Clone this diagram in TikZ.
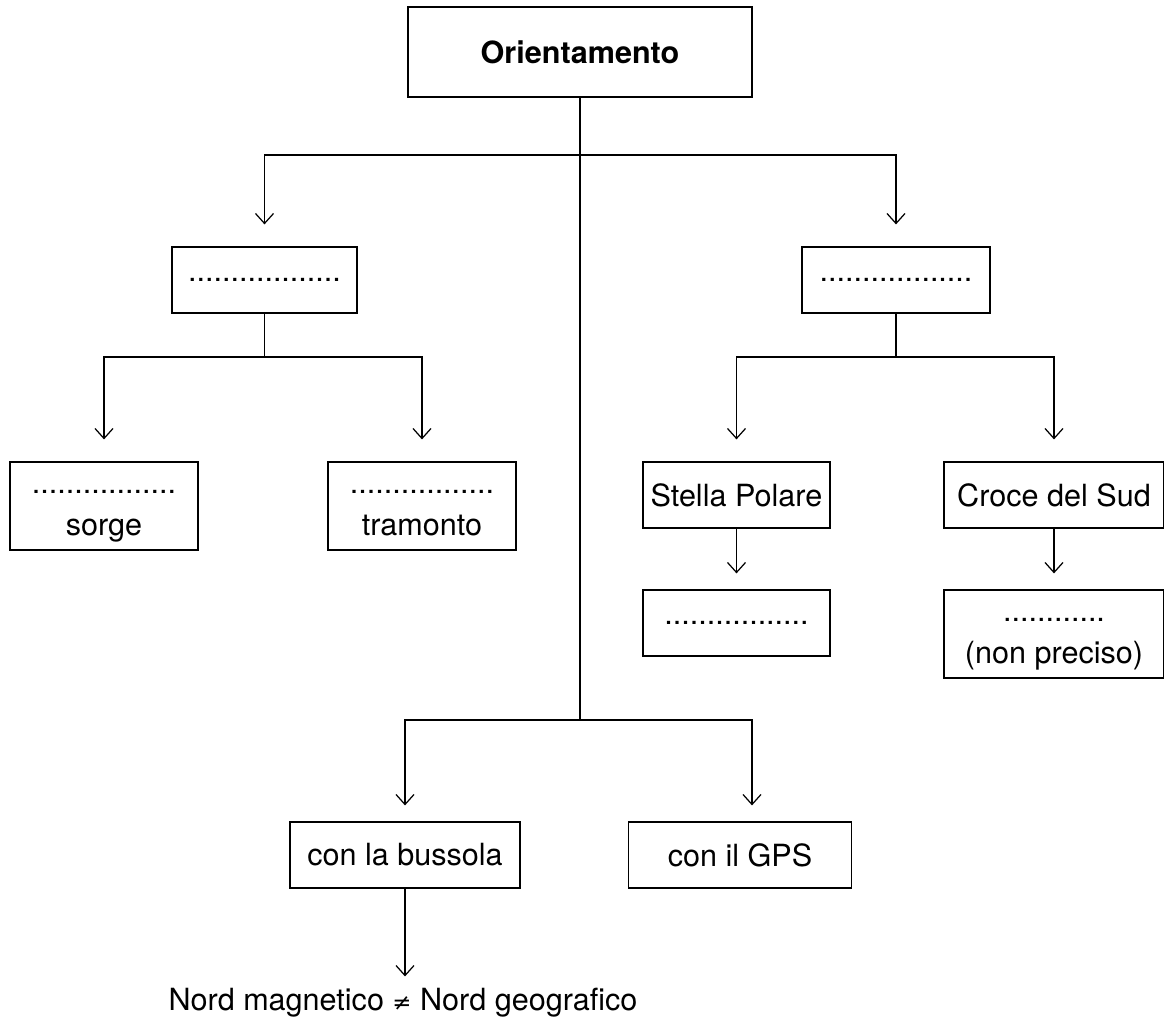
\documentclass[tikz,border=0pt]{standalone}
\usepackage{fontspec}
\setmainfont{TeX Gyre Heros}
\newfontfamily\symfont{DejaVu Sans}
\usetikzlibrary{arrows.meta}

\tikzset{
  box/.style={draw,line width=0.7pt,minimum width=3.72cm,minimum height=1.32cm,
    inner sep=0pt,align=center,font=\fontsize{17.4}{24}\selectfont},
  tallbox/.style={box,minimum height=1.76cm},
  link/.style={line width=0.7pt},
  arr/.style={link,-{Straight Barb[length=0.2cm,width=0.36cm]}},
}

\begin{document}
\begin{tikzpicture}[x=0.02cm,y=-0.02cm]
    \useasboundingbox (0,0) rectangle (1164,1021);
    \clip (0,0) rectangle (1164,1021);

    % top
    \node[box,minimum width=6.88cm,minimum height=1.8cm,font=\fontsize{17.4}{24}\selectfont\bfseries]
      (root) at (580,52) {Orientamento};

    \coordinate (j1) at (580,155);
    \coordinate (j2) at (580,720);

    % sole
    \node[box,minimum width=3.7cm] (sole) at (264.5,280) {..................};
    \coordinate (js) at (264.5,357);
    \node[tallbox,minimum width=3.76cm] (sorge) at (104,506) {.................\strut\\sorge\strut};
    \node[tallbox,minimum width=3.76cm] (tramonto) at (422,506) {.................\strut\\tramonto\strut};

    % stelle
    \node[box,minimum width=3.76cm] (stelle) at (896,280) {..................};
    \coordinate (jt) at (896,357);
    \node[box,minimum width=3.74cm] (polare) at (736.5,495) {Stella Polare};
    \node[box,minimum width=3.74cm] (polaredots) at (736.5,623) {.................};
    \node[box,minimum width=4.4cm] (croce) at (1054,495) {Croce del Sud};
    \node[tallbox,minimum width=4.4cm] (crocedots) at (1054,634) {............\strut\\(non preciso)\strut};

    % strumenti
    \node[box,minimum width=4.6cm] (bussola) at (405,855) {con la bussola};
    \node[box,minimum width=4.46cm] (gps) at (740,855) {con il GPS};
    \node[font=\fontsize{17.4}{24}\selectfont,anchor=base] (nord) at (403,1010)
      {Nord magnetico {\symfont\fontsize{13}{16}\selectfont ≠} Nord geografico};

    \draw[link] (root) -- (j2);
    \draw[arr,shorten >=0.44cm] (j1) -| (sole.north);
    \draw[arr,shorten >=0.44cm] (j1) -| (stelle.north);

    \draw[link] (sole) -- (js);
    \draw[arr,shorten >=0.44cm] (js) -| (sorge.north);
    \draw[arr,shorten >=0.44cm] (js) -| (tramonto.north);

    \draw[link] (stelle) -- (jt);
    \draw[arr,shorten >=0.44cm] (jt) -| (polare.north);
    \draw[arr,shorten >=0.44cm] (jt) -| (croce.north);
    \draw[arr,shorten >=0.32cm] (polare) -- (polaredots);
    \draw[arr,shorten >=0.32cm] (croce) -- (crocedots);

    \draw[arr,shorten >=0.32cm] (j2) -| (bussola.north);
    \draw[arr,shorten >=0.32cm] (j2) -| ([xshift=0.24cm]gps.north);
    \draw[arr,shorten >=0.1cm] (bussola.south) -- (bussola.south |- nord.north);
\end{tikzpicture}
\end{document}
